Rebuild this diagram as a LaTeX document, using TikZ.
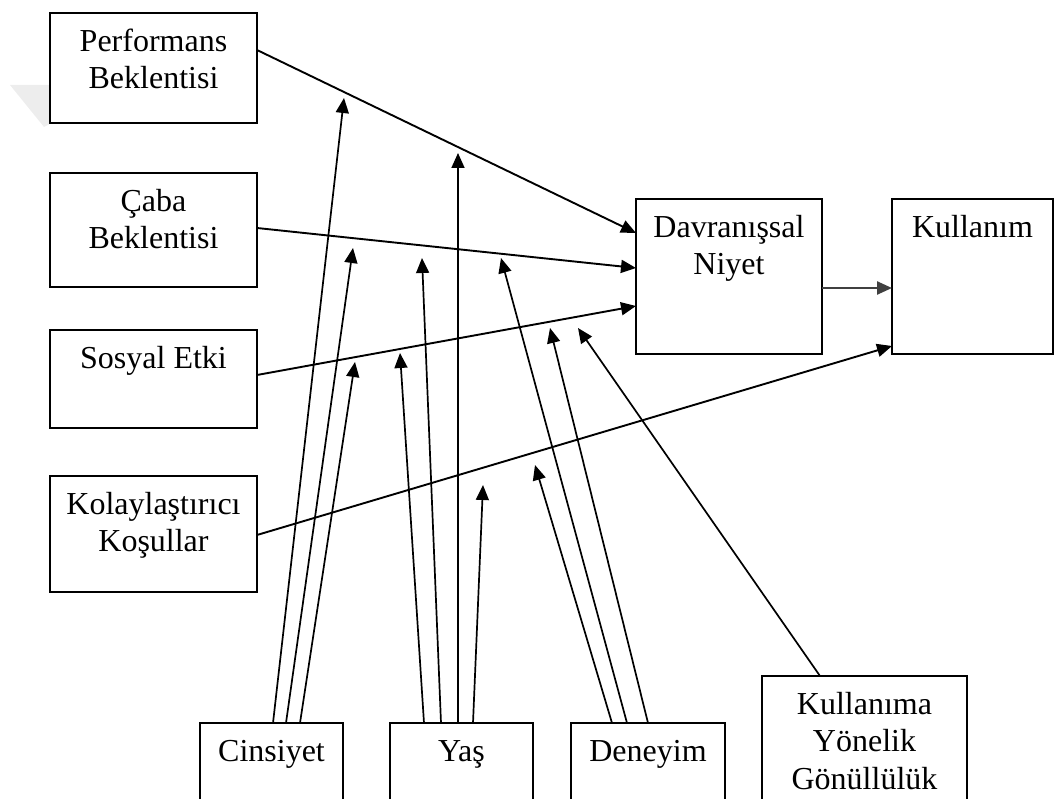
\documentclass[tikz,border=0pt]{standalone}
\usepackage{fontspec}
\setmainfont{Liberation Serif}
\usetikzlibrary{arrows.meta}
\begin{document}
\begin{tikzpicture}[x=1pt,y=-1pt,
  box/.style={draw, line width=2pt, inner sep=0pt, outer sep=0pt, rectangle},
  txt/.style={anchor=north, inner sep=0pt, align=center, font=\fontsize{32}{37.5}\selectfont},
  link/.style={line width=1.7pt, -{Triangle[length=15pt,width=13pt]}},
  main/.style={link, line width=1.9pt},
]
\clip (0,0) rectangle (1055,799);
% faint grey wedge left of the first box
\fill[black!7] (10,85) -- (50,85) -- (50,124) -- (44,127) -- cycle;

% determinants (left column)
\node[box, minimum width=207pt, minimum height=110pt] (perf)   at (153.5,68)  {};
\node[box, minimum width=207pt, minimum height=114pt] (caba)   at (153.5,230) {};
\node[box, minimum width=207pt, minimum height=98pt]  (sosyal) at (153.5,379) {};
\node[box, minimum width=207pt, minimum height=116pt] (kolay)  at (153.5,534) {};
% outcomes
\node[box, minimum width=186pt, minimum height=155pt] (davr) at (729,276.5) {};
\node[box, minimum width=161pt, minimum height=155pt] (kull) at (972.5,276.5) {};
% moderators (bottom row)
\node[box, minimum width=143pt, minimum height=120pt] (cins) at (271.5,783) {};
\node[box, minimum width=143pt, minimum height=120pt] (yas)  at (461.5,783) {};
\node[box, minimum width=154pt, minimum height=120pt] (den)  at (648,783)   {};
\node[box, minimum width=205pt, minimum height=160pt] (gon)  at (864.5,756) {};

% box texts
\node[txt] (perfT)   at ([yshift=-12pt]perf.north)   {\strut Performans\\Beklentisi};
\node[txt] (cabaT)   at ([yshift=-12pt]caba.north)   {\strut Çaba\\Beklentisi};
\node[txt] (sosyalT) at ([yshift=-12pt]sosyal.north) {\strut Sosyal Etki};
\node[txt] (kolayT)  at ([yshift=-12pt]kolay.north)  {\strut Kolaylaştırıcı\\Koşullar};
\node[txt] (davrT)   at ([yshift=-12pt]davr.north)   {\strut Davranışsal\\Niyet};
\node[txt] (kullT)   at ([yshift=-12pt]kull.north)   {\strut Kullanım};
\node[txt] (cinsT)   at ([yshift=-12pt]cins.north)   {\strut Cinsiyet};
\node[txt] (yasT)    at ([yshift=-12pt]yas.north)    {\strut Yaş};
\node[txt] (denT)    at ([yshift=-12pt]den.north)    {\strut Deneyim};
\node[txt] (gonT)    at ([yshift=-12pt]gon.north)    {\strut Kullanıma\\Yönelik\\Gönüllülük};

% main paths
\draw[main] ([yshift=18pt]perf.east)  -- ([yshift=43.5pt]davr.west);
\draw[main] ([yshift=2pt]caba.east)   -- ([yshift=8.5pt]davr.west);
\draw[main] ([yshift=4pt]sosyal.east) -- ([yshift=-29.5pt]davr.west);
\draw[main] ([yshift=-1pt]kolay.east) -- ([yshift=-69.5pt]kull.west);
\draw[main, line width=2.4pt, black!75] ([yshift=-11.5pt]davr.east) -- ([yshift=-11.5pt]kull.west);

% moderator arrow tips on the main paths
\coordinate (c1) at (344,98);
\coordinate (c2) at (353,248);
\coordinate (c3) at (355,362);
\coordinate (y1) at (400,353);
\coordinate (y2) at (422,258);
\coordinate (y3) at (458,153);
\coordinate (y4) at (483,485);
\coordinate (d1) at (535,465);
\coordinate (d2) at (501,258);
\coordinate (d3) at (550,328);
\coordinate (g1) at (578,328);

% gender
\draw[link] ([xshift=1.5pt]cins.north)  -- (c1);
\draw[link] ([xshift=14.5pt]cins.north) -- (c2);
\draw[link] ([xshift=28.5pt]cins.north) -- (c3);
% age
\draw[link] ([xshift=-37.5pt]yas.north) -- (y1);
\draw[link] ([xshift=-20.5pt]yas.north) -- (y2);
\draw[link] ([xshift=-3.5pt]yas.north)  -- (y3);
\draw[link] ([xshift=11.5pt]yas.north)  -- (y4);
% experience
\draw[link] ([xshift=-36pt]den.north) -- (d1);
\draw[link] ([xshift=-21pt]den.north) -- (d2);
\draw[link] (den.north)               -- (d3);
% voluntariness of use
\draw[link] ([xshift=-44.5pt]gon.north) -- (g1);
\end{tikzpicture}
\end{document}
